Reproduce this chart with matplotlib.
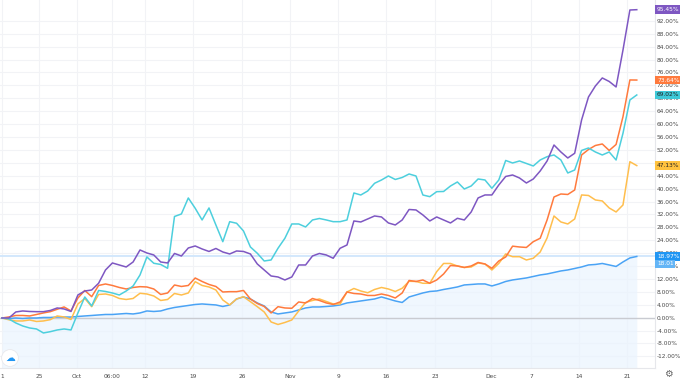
import matplotlib
matplotlib.use("Agg")
import matplotlib.pyplot as plt
import numpy as np

# daily % change, Sep 21 -> Dec 22
purple = [-0.1, -0.1, 1.77, 2.08, 1.92, 1.86, 1.86, 2.23, 3.01, 2.7,
          1.92, 7.03, 8.27, 8.58, 10.66, 14.78, 16.95, 16.33, 15.71, 17.26,
          20.98, 20.05, 19.43, 17.26, 16.95, 19.9, 19.12, 21.6, 22.22, 21.29,
          20.52, 21.45, 20.36, 19.74, 20.67, 20.52, 19.74, 16.64, 14.78, 12.92,
          12.61, 11.68, 12.61, 16.33, 16.33, 19.12, 19.9, 19.43, 18.41, 21.51,
          22.53, 29.97, 29.66, 30.59, 31.52, 31.21, 29.35, 28.73, 30.28, 33.53,
          33.38, 31.83, 29.97, 31.21, 30.28, 29.35, 30.8, 30.28, 32.76, 37.1,
          38.03, 38.03, 41.12, 43.76, 44.22, 43.29, 41.74, 42.98, 45.46, 48.56,
          53.51, 51.35, 49.49, 50.95, 61.27, 68.4, 71.8, 74.29, 73.2, 71.5,
          82.96, 95.35, 95.45]
orange = [-0.1, 0.22, 0.68, 0.68, 0.53, 0.99, 1.46, 1.86, 2.6, 3.32,
          2.08, 6.1, 8.43, 6.51, 9.98, 10.44, 9.98, 9.36, 8.89, 9.36,
          9.61, 9.51, 8.89, 7.19, 7.65, 10.13, 9.67, 9.98, 12.3, 11.22,
          10.29, 9.67, 7.96, 8.06, 8.06, 8.43, 5.8, 4.4, 3.47, 1.46,
          3.41, 3.01, 2.91, 4.87, 4.56, 5.95, 5.33, 4.56, 4.09, 4.87,
          7.96, 7.5, 7.34, 6.88, 6.88, 7.34, 6.88, 6.1, 7.65, 11.53,
          11.22, 11.68, 10.66, 11.68, 13.54, 16.18, 16.02, 15.56, 16.02, 17.11,
          16.64, 15.31, 17.57, 18.81, 22.16, 21.91, 21.76, 23.55, 24.61, 30.28,
          37.4, 38.33, 38.18, 39.57, 50.42, 52.12, 53.36, 53.83, 51.82, 53.68,
          62.29, 73.67, 73.64]
cyan = [-0.1, -0.4, -1.64, -2.57, -3.19, -3.5, -4.74, -4.34, -3.81, -3.5,
        -3.81, 1.46, 6.41, 3.63, 8.43, 8.12, 7.65, 7.03, 8.27, 9.82,
        13.23, 18.81, 16.86, 16.49, 15.31, 31.36, 32.14, 37.1, 33.9, 30.28,
        34.0, 28.73, 23.55, 29.75, 29.26, 26.87, 21.91, 19.96, 17.57, 17.88,
        21.51, 24.61, 29.04, 29.04, 28.11, 30.28, 30.74, 30.28, 29.75, 29.75,
        30.28, 38.64, 38.02, 39.26, 41.65, 42.67, 43.91, 42.83, 43.45, 44.53,
        43.91, 38.02, 37.5, 39.05, 39.11, 40.81, 42.05, 39.88, 40.81, 42.98,
        42.67, 40.1, 42.67, 48.72, 47.94, 48.56, 47.79, 47.01, 48.87, 49.89,
        50.42, 48.87, 44.84, 45.77, 51.82, 52.59, 51.35, 50.42, 51.35, 48.87,
        57.15, 67.47, 69.02]
yellow = [-0.1, -0.65, -1.02, -1.02, -0.71, -1.18, -1.02, -0.62, 0.53, 0.22,
          -0.56, 4.25, 5.95, 3.41, 7.19, 7.34, 6.88, 5.95, 5.64, 5.95,
          7.56, 7.34, 6.72, 5.33, 5.64, 7.5, 7.03, 7.65, 11.16, 9.98,
          9.51, 8.58, 5.49, 3.94, 5.8, 6.51, 4.96, 3.41, 1.77, -1.33,
          -2.11, -1.49, -0.71, 2.08, 4.71, 5.33, 5.8, 5.02, 4.25, 4.25,
          7.96, 9.05, 8.27, 7.72, 8.74, 9.36, 8.89, 8.12, 9.11, 11.28,
          11.22, 10.66, 10.66, 14.25, 16.8, 16.8, 16.02, 15.56, 15.71, 16.95,
          16.64, 14.78, 16.8, 19.74, 18.9, 18.9, 17.88, 18.41, 20.36, 24.7,
          31.52, 29.66, 29.04, 30.59, 38.03, 37.87, 36.48, 36.17, 34.0, 32.76,
          34.93, 48.34, 47.13]
blue = [-0.1, -0.25, -0.1, -0.25, -0.1, -0.1, 0.06, 0.06, 0.2, 0.2,
        0.2, 0.37, 0.53, 0.68, 0.84, 0.99, 0.99, 1.15, 1.3, 1.15,
        1.46, 2.08, 1.92, 2.08, 2.7, 3.16, 3.47, 3.78, 4.09, 4.25,
        4.09, 3.94, 3.47, 3.94, 5.8, 6.42, 5.8, 4.56, 3.63, 1.77,
        1.15, 1.46, 1.77, 2.39, 3.01, 3.32, 3.32, 3.47, 3.63, 3.94,
        4.56, 4.87, 5.18, 5.49, 5.8, 6.42, 5.8, 5.18, 4.71, 6.42,
        7.04, 7.66, 8.12, 8.28, 8.74, 9.11, 9.52, 10.14, 10.29, 10.45,
        10.45, 9.83, 10.45, 11.22, 11.69, 12.0, 12.31, 12.77, 13.24, 13.55,
        14.01, 14.48, 14.79, 15.25, 15.72, 16.34, 16.49, 16.8, 16.34, 15.87,
        17.27, 18.51, 18.97]

tick_pos = [0, 5.36, 10.87, 15.94, 20.7, 27.7, 34.8, 41.7, 48.7, 55.65,
            62.75, 70.87, 76.67, 83.6, 90.6]
tick_labels = ["1", "25", "Oct", "06:00", "12", "19", "26", "Nov", "9", "16",
               "23", "Dec", "7", "14", "21"]

series = [
    (yellow, "#FFBE4D"),
    (orange, "#FF7A3D"),
    (cyan, "#4DCFDD"),
    (purple, "#7E57C2"),
]

fig = plt.figure(figsize=(6.8, 3.79), dpi=100)
ax = fig.add_axes([0, 0.029, 655 / 680, 0.971])

days = np.arange(len(blue))
ax.fill_between(days, blue, -20, color="#eaf4fe", alpha=0.7, lw=0)
ax.axhline(18.97, color="#d3e8fc", lw=1.4, zorder=1)
ax.axhline(0, color="#c9cbd1", lw=1.0, zorder=1)
ax.plot(days, blue, color="#4AA3F5", lw=1.1, zorder=3)
for vals, col in series:
    ax.plot(days, vals, color=col, lw=1.1, zorder=3)

ax.set_xlim(-0.29, 94.64)
ax.set_ylim(-15.6, 98.45)

ax.set_yticks(np.arange(-12, 93, 4))
ax.yaxis.tick_right()
ax.yaxis.set_major_formatter(matplotlib.ticker.FuncFormatter(
    lambda v, p: f"{v:.2f}%"))
ax.set_xticks(tick_pos)
ax.set_xticklabels(tick_labels)
ax.tick_params(axis="both", length=0, labelsize=4.2, colors="#4a4a4a")
ax.tick_params(axis="y", pad=1.2)
ax.tick_params(axis="x", pad=4)
ax.grid(True, color="#f2f3f6", lw=0.8)
ax.set_axisbelow(True)
for s in ["top", "left"]:
    ax.spines[s].set_visible(False)
ax.spines["right"].set_color("#e6e7eb")
ax.spines["bottom"].set_color("#e6e7eb")

# last value labels
labels = [(95.45, "95.45%", "#7E57C2", "white"),
          (73.64, "73.64%", "#FF7A3D", "white"),
          (69.02, "69.02%", "#3FC9D8", "#222222"),
          (47.13, "47.13%", "#FFC23F", "#222222"),
          (18.97, "18.97%", "#2196F3", "white"),
          (16.7, "18.01", "#64B5F6", "white")]
for v, txt, bg, fg in labels:
    ax.annotate(txt, xy=(1.0, v), xycoords=("axes fraction", "data"),
                xytext=(1.5, 0), textcoords="offset points",
                ha="left", va="center", fontsize=4.2, color=fg,
                bbox=dict(boxstyle="square,pad=0.3", fc=bg, ec="none"),
                annotation_clip=False)

# logo + settings
fig.text(10 / 680, 1 - 358 / 379, "\u2601", fontsize=7, color="#2196F3",
         ha="center", va="center",
         bbox=dict(boxstyle="circle,pad=0.35", fc="white", ec="#e8e8ec", lw=0.6))
fig.text(668 / 680, 1 - 374 / 379, "\u2699", fontsize=7, color="#666666",
         ha="center", va="center")

fig.savefig("out.png", dpi=100)
